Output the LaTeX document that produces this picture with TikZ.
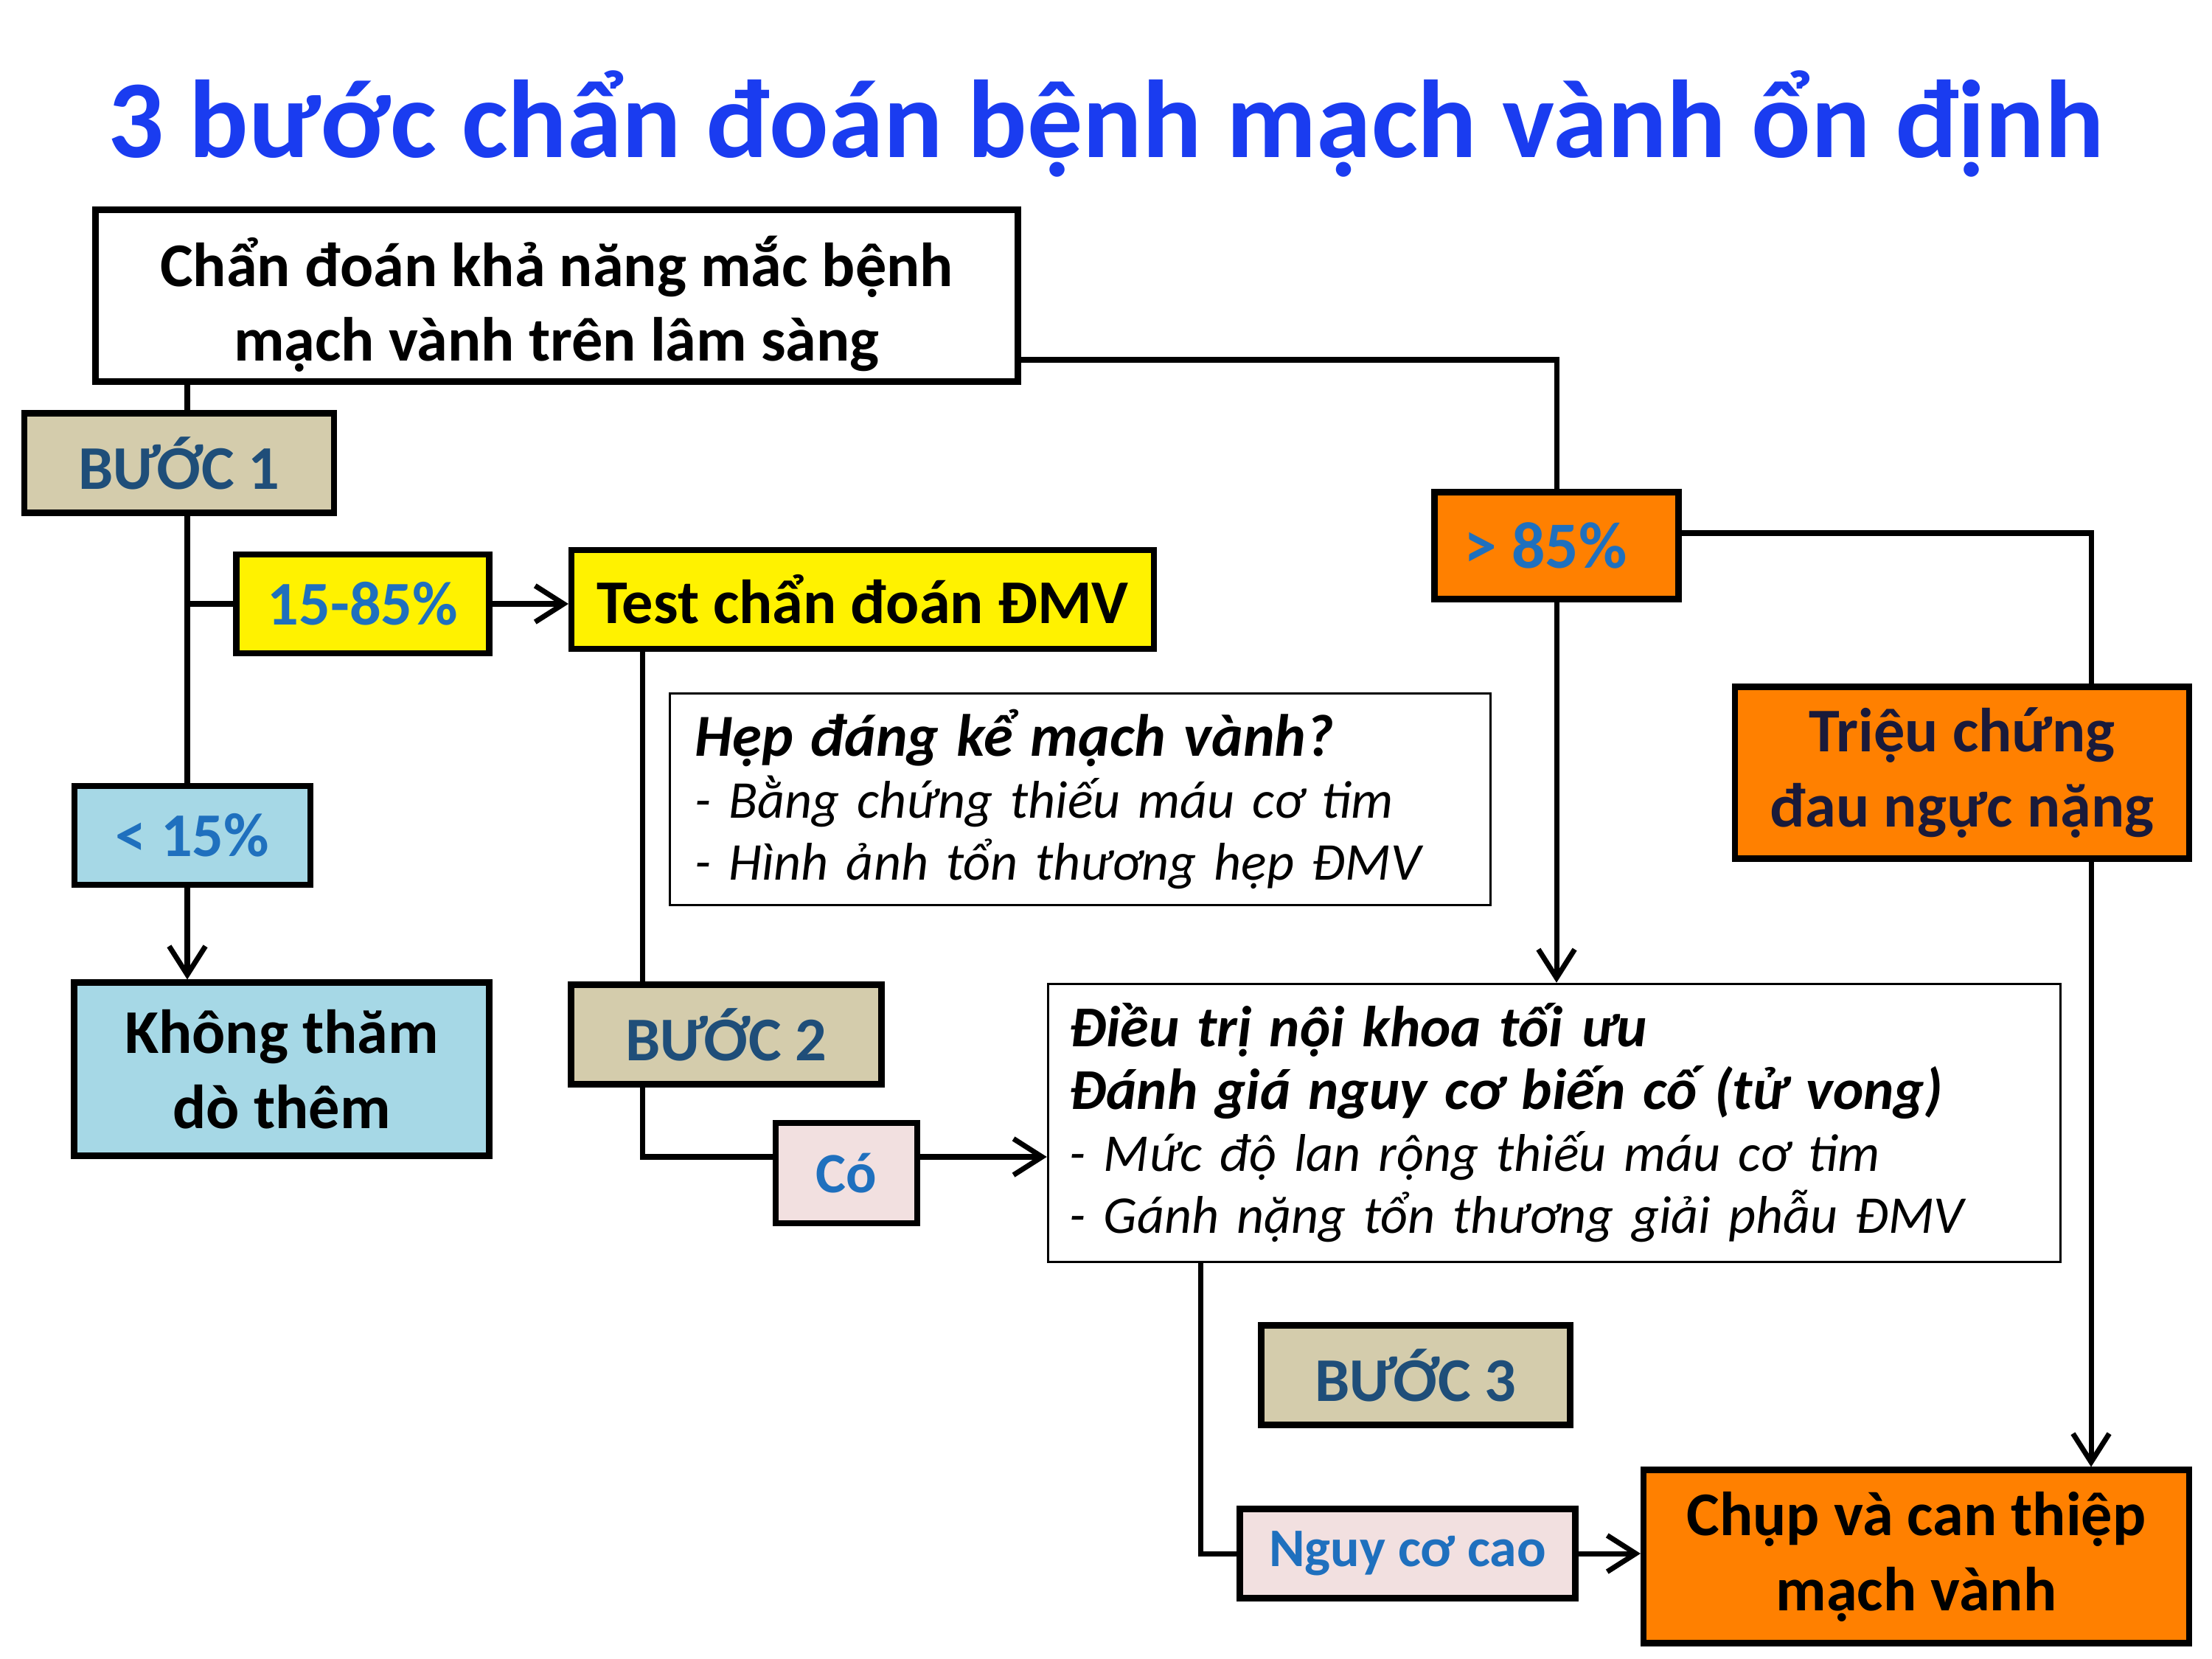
\documentclass[tikz,border=0pt]{standalone}
\usepackage{fontspec}
\setmainfont{Carlito}
\usetikzlibrary{arrows.meta, backgrounds}

\definecolor{titleblue}{RGB}{26,60,240}
\definecolor{labelblue}{RGB}{31,112,190}
\definecolor{stepblue}{RGB}{31,78,121}
\definecolor{tanfill}{RGB}{212,204,172}
\definecolor{skyfill}{RGB}{166,216,230}
\definecolor{pinkfill}{RGB}{242,224,224}
\definecolor{orangefill}{RGB}{255,128,0}
\definecolor{navytext}{RGB}{26,26,58}

\tikzset{
  box/.style={draw, line width=2.3pt, inner sep=0pt, align=center,
    font=\bfseries\fontsize{24}{29}\selectfont},
  stepbox/.style={box, fill=tanfill, text=stepblue, minimum height=1.35cm},
  tagbox/.style={box, text=labelblue},
  notebox/.style={draw, line width=1pt, fill=white, align=left, inner ysep=0pt,
    font=\itshape\fontsize{20.5}{24}\selectfont},
  link/.style={line width=2pt}
}

\begin{document}
\begin{tikzpicture}[>={Straight Barb[length=11pt,width=14pt,line width=2pt]}]
\useasboundingbox (0,0) rectangle (30,-22.5);

% Tiêu đề
\node[anchor=base, text=titleblue, font=\bfseries\fontsize{42.7}{50}\selectfont] (title) at (15,-2.14)
  {3 bước chẩn đoán bệnh mạch vành ổn định};

% Bước 1
\node[box, fill=white, minimum width=12.51cm, minimum height=2.33cm] (dx) at (7.55,-4.01)
  {\rule{0pt}{0.91cm}Chẩn đoán khả năng mắc bệnh\\mạch vành trên lâm sàng};
\node[stepbox, minimum width=4.2cm] (step1) at (2.43,-6.28) {BƯỚC 1};
\node[tagbox, fill=yellow, minimum width=3.43cm, minimum height=1.34cm] (mid) at (4.92,-8.19) {15-85\%};
\node[box, fill=yellow, minimum width=7.9cm, minimum height=1.34cm] (test) at (11.70,-8.13)
  {Test chẩn đoán ĐMV};
\node[tagbox, fill=skyfill, minimum width=3.2cm, minimum height=1.34cm] (low) at (2.61,-11.33) {< 15\%};
\node[box, fill=skyfill, minimum width=5.63cm, minimum height=2.35cm] (nomore) at (3.82,-14.50)
  {Không thăm\\dò thêm};

% Bước 2
\node[notebox, text width=10.45cm, inner xsep=0.34cm, minimum height=2.87cm] (stenosis) at (14.65,-10.84)
  {{\bfseries\fontsize{23}{27}\selectfont Hẹp đáng kể mạch vành?}\\
   - Bằng chứng thiếu máu cơ tim\\
   - Hình ảnh tổn thương hẹp ĐMV};
\node[stepbox, minimum width=4.21cm] (step2) at (9.85,-14.03) {BƯỚC 2};
\node[tagbox, fill=pinkfill, font=\bfseries\fontsize{22}{26}\selectfont, minimum width=1.92cm, minimum height=1.36cm] (yes) at (11.48,-15.91) {Có};
\node[notebox, text width=13.15cm, inner xsep=0.29cm, minimum height=3.77cm] (treat) at (21.08,-15.23)
  {{\bfseries\fontsize{22.3}{24.5}\selectfont Điều trị nội khoa tối ưu}\\
   {\bfseries\fontsize{22.3}{24.5}\selectfont Đánh giá nguy cơ biến cố (tử vong)}\\
   - Mức độ lan rộng thiếu máu cơ tim\\
   - Gánh nặng tổn thương giải phẫu ĐMV};

% Nhánh > 85%
\node[tagbox, fill=orangefill, font=\bfseries\fontsize{25.5}{30}\selectfont, minimum width=3.31cm, minimum height=1.45cm] (high85) at (21.11,-7.40) {> 85\%\hspace{0.3cm}};
\node[box, fill=orangefill, text=navytext, minimum width=6.16cm, minimum height=2.33cm] (angina) at (26.61,-10.48)
  {Triệu chứng\\đau ngực nặng};

% Bước 3
\node[stepbox, minimum width=4.19cm] (step3) at (19.20,-18.65) {BƯỚC 3};
\node[tagbox, fill=pinkfill, font=\bfseries\fontsize{21}{25}\selectfont, minimum width=4.55cm, minimum height=1.21cm] (risk) at (19.09,-21.07) {Nguy cơ cao};
\node[box, fill=orangefill, minimum width=7.4cm, minimum height=2.35cm] (cath) at (25.99,-21.11)
  {Chụp và can thiệp\\mạch vành};

% Các đường nối
\coordinate (trunk) at (2.54,0);
\coordinate (drop) at (8.71,0);
\coordinate (riskx) at (16.28,0);
\begin{scope}[on background layer]
  \draw[link,->] (dx.south -| trunk) -- (nomore.north -| trunk);
  \draw[link] (mid.west -| trunk) -- (mid.west);
  \draw[link,->] (mid.east) -- (mid.east -| test.west);
  \draw[link] (test.south -| drop) |- ([yshift=2.2mm]yes.west);
  \draw[link,->] ([yshift=2.2mm]yes.east) -- ([yshift=2.2mm]yes.east -| treat.west);
  \draw[link] ([yshift=-8.7mm]dx.east) -| (high85.north);
  \draw[link,->] (high85.south) -- (high85.south |- treat.north);
  \draw[link,->] ([yshift=1.7mm]high85.east) -| ([xshift=23.7mm]cath.north);
  \draw[link] (treat.south -| riskx) |- (risk.west);
  \draw[link,->] (risk.east) -- (risk.east -| cath.west);
\end{scope}
\end{tikzpicture}
\end{document}
